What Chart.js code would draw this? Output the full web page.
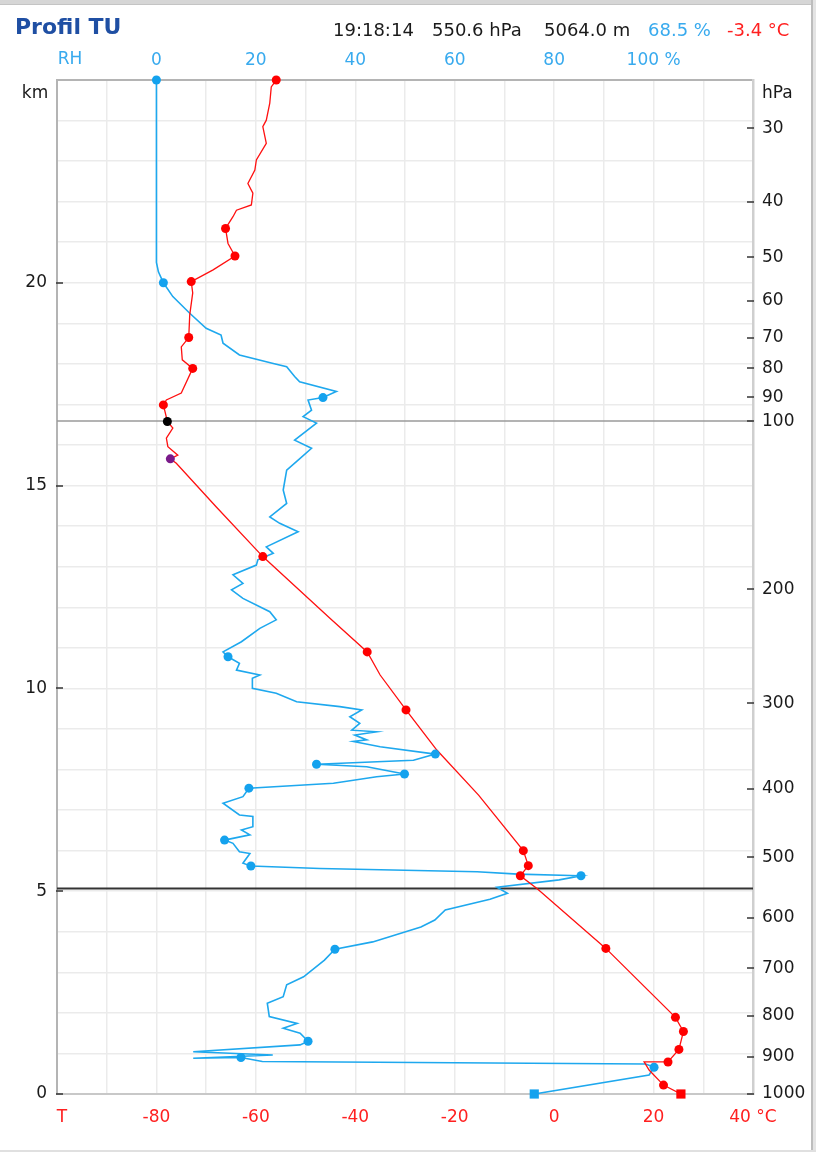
<!DOCTYPE html>
<html><head><meta charset="utf-8">
<script src="https://cdn.jsdelivr.net/npm/chart.js@4.4.0/dist/chart.umd.min.js"></script>
<style>
html,body{margin:0;padding:0;background:#fff;width:816px;height:1152px;overflow:hidden;font-family:'DejaVu Sans',sans-serif;}
#wrap{position:absolute;left:0;top:0;width:816px;height:1152px;}
.hdr{position:absolute;font-size:18px;line-height:20px;top:20px;white-space:nowrap;color:#1a1a1a;}
#title{position:absolute;left:15px;top:14px;font-size:22px;line-height:26px;font-weight:bold;color:#1f4fa3;}
#topband{position:absolute;left:0;top:0;width:816px;height:4px;background:#d6d6d6;border-bottom:1px solid #c4c4c4;}
#rightband{position:absolute;left:811px;top:0;width:5px;height:1152px;background:#e4e4e4;border-left:2px solid #bdbdbd;box-sizing:border-box;}
#botband{position:absolute;left:0;top:1150px;width:816px;height:2px;background:#e0e0e0;}
</style></head>
<body>
<div id="wrap"><canvas id="c" width="816" height="1152"></canvas></div>
<div id="topband"></div><div id="rightband"></div><div id="botband"></div>
<div id="title">Profil TU</div>
<div class="hdr" style="left:333px">19:18:14</div>
<div class="hdr" style="left:432px">550.6 hPa</div>
<div class="hdr" style="left:544px">5064.0 m</div>
<div class="hdr" style="left:648px;color:#38aaee">68.5 %</div>
<div class="hdr" style="left:727px;color:#ff2020">-3.4 °C</div>
<script>
// Temperature profile [T °C, height km]
const tempTrace = [
[-55.9,25.0],[-56.9,24.83],[-57.2,24.43],[-57.9,24.01],[-58.6,23.85],[-57.9,23.44],[-59.9,23.03],
[-60.2,22.78],[-61.6,22.45],[-60.6,22.21],[-60.9,21.92],[-63.9,21.79],[-64.6,21.63],[-66.1,21.34],
[-65.6,20.97],[-64.2,20.66],[-68.6,20.32],[-73.0,20.03],[-72.7,19.75],[-73.3,19.21],[-73.5,18.65],
[-75.0,18.42],[-74.8,18.10],[-72.7,17.89],[-75.0,17.28],[-78.0,17.11],[-78.6,16.99],[-77.8,16.58],
[-76.7,16.42],[-78.0,16.17],[-77.7,15.96],[-75.7,15.75],[-77.2,15.66],[-76.0,15.55],[-68.0,14.48],
[-58.6,13.25],[-45.1,11.73],[-37.6,10.90],[-35.0,10.33],[-29.8,9.47],[-23.6,8.48],[-15.2,7.37],
[-6.2,6.0],[-5.2,5.63],[-6.8,5.38],[-3.4,5.06],[10.4,3.59],[24.4,1.89],[26.0,1.54],[25.1,1.10],
[22.9,0.79],[18.1,0.79],[19.1,0.59],[22.0,0.22],[25.5,0.0]
];
const tempMarkers = [
[-55.9,25.0],[-66.1,21.34],[-64.2,20.66],[-73.0,20.03],[-73.5,18.65],[-72.7,17.89],[-78.6,16.99],
[-58.6,13.25],[-37.6,10.90],[-29.8,9.47],[-6.2,6.0],[-5.2,5.63],[-6.8,5.38],[10.4,3.59],
[24.4,1.89],[26.0,1.54],[25.1,1.10],[22.9,0.79],[22.0,0.22]
];
const tropopausePoint = [[-77.8,16.58]];
const purplePoint = [[-77.2,15.66]];
const tempSurface = [[25.5,0.0]];

// Relative humidity profile [RH %, height km]
const rhTrace = [
[0,25.0],[0,20.5],[0.4,20.27],[1.4,20.0],[3.3,19.66],[6.7,19.25],[10.0,18.88],[13.0,18.71],[13.4,18.51],
[16.7,18.22],[23.5,18.01],[26.2,17.93],[27.8,17.69],[28.8,17.56],[36.2,17.32],[33.5,17.17],[30.5,17.11],
[31.2,16.86],[29.5,16.70],[32.2,16.54],[27.8,16.12],[31.2,15.92],[28.5,15.63],[26.2,15.38],[25.5,14.89],
[26.2,14.56],[22.8,14.23],[24.8,14.07],[28.5,13.86],[22.1,13.49],[23.5,13.33],[20.4,13.17],[20.1,13.04],
[15.4,12.80],[17.4,12.59],[15.1,12.43],[17.4,12.22],[22.8,11.89],[24.1,11.69],[20.8,11.48],[17.1,11.15],
[13.4,10.90],[14.4,10.78],[16.7,10.62],[16.1,10.45],[20.8,10.33],[19.3,10.25],[19.3,10.00],[24.1,9.88],
[28.2,9.67],[36.9,9.55],[41.3,9.47],[38.9,9.30],[40.9,9.14],[39.3,8.97],[44.3,8.93],[39.9,8.85],
[42.3,8.73],[39.6,8.69],[45.0,8.56],[56.1,8.38],[51.7,8.23],[32.2,8.13],[42.3,8.07],[49.9,7.89],
[44.3,7.82],[35.6,7.66],[18.6,7.54],[17.4,7.33],[13.4,7.17],[16.7,6.88],[19.4,6.84],[19.4,6.59],
[17.1,6.51],[18.8,6.39],[13.7,6.26],[15.4,6.18],[16.7,5.97],[18.8,5.93],[17.4,5.69],[19.0,5.62],
[32.9,5.56],[64.5,5.48],[72.7,5.42],[85.4,5.38],[81.0,5.28],[68.5,5.10],[70.6,4.95],[67.1,4.80],
[58.1,4.54],[56.0,4.29],[53.2,4.12],[43.5,3.75],[35.9,3.57],[33.8,3.30],[29.6,2.89],[26.2,2.69],
[25.5,2.40],[22.3,2.24],[22.7,1.91],[28.3,1.74],[25.5,1.62],[28.9,1.50],[30.5,1.30],[28.9,1.21],
[7.4,1.04],[23.4,0.96],[7.4,0.88],[17.0,0.90],[21.3,0.80],[98.4,0.74],[100.1,0.66],[99.1,0.47],[76.0,0.0]
];
const rhMarkers = [
[0,25.0],[1.4,20.0],[33.5,17.17],[14.4,10.78],[56.1,8.38],[32.2,8.13],[49.9,7.89],[18.6,7.54],
[13.7,6.26],[19.0,5.62],[85.4,5.38],[35.9,3.57],[30.5,1.30],[17.0,0.90],[100.1,0.66]
];
const rhSurface = [[76.0,0.0]];

// Axis labels
const tTicks = [-80,-60,-40,-20,0,20,40];
const rhTicks = [0,20,40,60,80,100];
const kmLabels = [0,5,10,15,20];
const pressureLabels = [1000,900,800,700,600,500,400,300,200,100,90,80,70,60,50,40,30];
const pressureHeights = [0,0.92,1.93,3.10,4.34,5.84,7.52,9.63,12.44,16.59,17.18,17.89,18.65,19.56,20.63,22.00,23.81];
const tropopauseHeight = 16.59;
const currentHeight = 5.064;

const xy = a => a.map(p => ({x:p[0], y:p[1]}));
const FONT = {family:'DejaVu Sans', size:17};

const decor = {
  id:'decor',
  afterDraw(chart){
    const ctx = chart.ctx, a = chart.chartArea, ys = chart.scales.y, y2 = chart.scales.y2;
    ctx.save();
    ctx.strokeStyle = '#333'; ctx.lineWidth = 1.5;
    kmLabels.forEach(v => { const py = Math.round(ys.getPixelForValue(v)); ctx.beginPath(); ctx.moveTo(a.left-1,py); ctx.lineTo(a.left+6,py); ctx.stroke(); });
    pressureHeights.forEach(v => { const py = Math.round(y2.getPixelForValue(v)); ctx.beginPath(); ctx.moveTo(a.right-6,py); ctx.lineTo(a.right+1,py); ctx.stroke(); });
    ctx.font = '17px "DejaVu Sans"'; ctx.textBaseline = 'middle';
    ctx.textAlign = 'center'; ctx.fillStyle = '#38aaee'; ctx.fillText('RH', 70, 60);
    ctx.fillStyle = '#1a1a1a'; ctx.fillText('km', 35, 94);
    ctx.textAlign = 'left'; ctx.fillText('hPa', 762, 94);
    ctx.textAlign = 'center'; ctx.fillStyle = '#ff2020'; ctx.fillText('T', 62, 1118);
    ctx.restore();
  }
};

new Chart(document.getElementById('c'), {
  type:'scatter',
  data:{datasets:[
    {data:xy(tempMarkers), xAxisID:'x', yAxisID:'y', pointRadius:4.5, pointBackgroundColor:'#ff0000', pointBorderWidth:0, showLine:false, clip:false, order:0},
    {data:xy(tropopausePoint), xAxisID:'x', yAxisID:'y', pointRadius:4.5, pointBackgroundColor:'#000000', pointBorderWidth:0, showLine:false, clip:false, order:0},
    {data:xy(purplePoint), xAxisID:'x', yAxisID:'y', pointRadius:4.5, pointBackgroundColor:'#7a1a8a', pointBorderWidth:0, showLine:false, clip:false, order:0},
    {data:xy(tempSurface), xAxisID:'x', yAxisID:'y', pointRadius:6.5, pointStyle:'rect', pointBackgroundColor:'#ff0000', pointBorderWidth:0, showLine:false, clip:false, order:0},
    {data:xy(rhMarkers), xAxisID:'xRH', yAxisID:'y', pointRadius:4.5, pointBackgroundColor:'#14a2ee', pointBorderWidth:0, showLine:false, clip:false, order:1},
    {data:xy(rhSurface), xAxisID:'xRH', yAxisID:'y', pointRadius:6.5, pointStyle:'rect', pointBackgroundColor:'#14a2ee', pointBorderWidth:0, showLine:false, clip:false, order:1},
    {data:xy(tempTrace), xAxisID:'x', yAxisID:'y', showLine:true, borderColor:'#ff1010', borderWidth:1.3, pointRadius:0, tension:0, order:2},
    {data:xy(rhTrace), xAxisID:'xRH', yAxisID:'y', showLine:true, borderColor:'#1ea8ee', borderWidth:1.6, pointRadius:0, tension:0, order:3},
    {data:[{x:-100,y:tropopauseHeight},{x:40,y:tropopauseHeight}], xAxisID:'x', yAxisID:'y', showLine:true, borderColor:'#9a9a9a', borderWidth:1.5, pointRadius:0, order:5},
    {data:[{x:-100,y:currentHeight},{x:40,y:currentHeight}], xAxisID:'x', yAxisID:'y', showLine:true, borderColor:'#333333', borderWidth:2, pointRadius:0, order:5}
  ]},
  options:{
    responsive:false, animation:false, devicePixelRatio:1,
    layout:{padding:0},
    plugins:{legend:{display:false}, tooltip:{enabled:false}},
    events:[],
    scales:{
      x:{type:'linear', position:'bottom', min:-100, max:40,
        ticks:{stepSize:10, autoSkip:false, maxRotation:0, color:'#ff2020', font:FONT, padding:13,
          callback:v => tTicks.includes(v) ? (v===40 ? '40 °C' : String(v)) : ''},
        grid:{color:'#ebebeb', lineWidth:1.5, drawTicks:false},
        border:{color:'#c8c8c8', width:2},
        afterFit:s => { s.height = 58; }},
      xRH:{type:'linear', position:'top', min:-20, max:120,
        ticks:{stepSize:20, autoSkip:false, maxRotation:0, color:'#38aaee', font:FONT, padding:9,
          callback:v => rhTicks.includes(v) ? (v===100 ? '100 %' : String(v)) : ''},
        grid:{display:false, drawTicks:false},
        border:{color:'#b4b4b4', width:2},
        afterFit:s => { s.height = 80; }},
      y:{type:'linear', position:'left', min:0, max:25,
        ticks:{stepSize:1, autoSkip:false, color:'#1a1a1a', font:FONT, padding:10,
          callback:v => kmLabels.includes(v) ? String(v) : ''},
        grid:{color:'#ebebeb', lineWidth:1.5, drawTicks:false},
        border:{color:'#b4b4b4', width:2},
        afterFit:s => { s.width = 57; }},
      y2:{type:'linear', position:'right', min:0, max:25,
        afterBuildTicks:s => { s.ticks = pressureHeights.map(v => ({value:v})); },
        ticks:{autoSkip:false, color:'#1a1a1a', font:FONT, padding:9,
          callback:(v,i) => String(pressureLabels[i])},
        grid:{display:false, drawTicks:false},
        border:{color:'#cfcfcf', width:2.5},
        afterFit:s => { s.width = 63; }}
    }
  },
  plugins:[decor]
});
</script>
</body></html>
